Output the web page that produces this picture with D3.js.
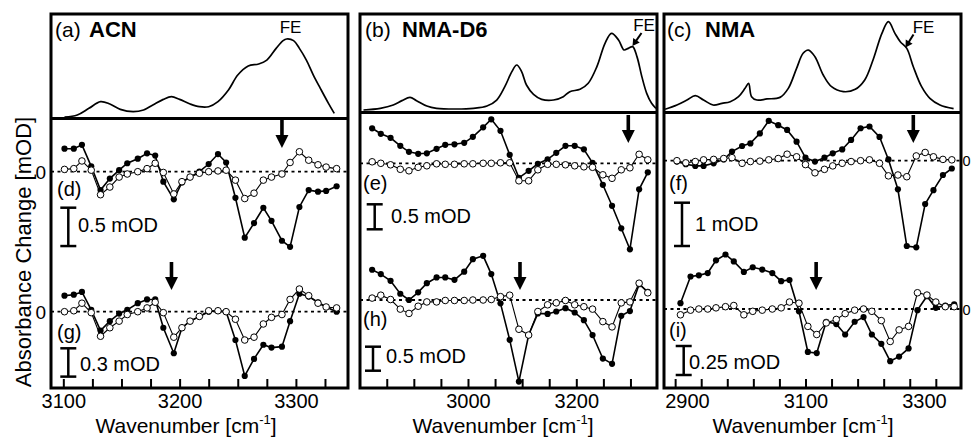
<!DOCTYPE html>
<html><head><meta charset="utf-8">
<script src="https://cdn.jsdelivr.net/npm/d3@7"></script>
<style>
body{margin:0;background:#fff}
svg{display:block}
text{font-family:"Liberation Sans",Arial,Helvetica,sans-serif;fill:#000}
</style>
</head><body>
<svg id="chart" width="971" height="441"></svg>
<script>
// ---------- DATA ----------
// Panel (a) ACN : FTIR spectrum (normalised absorbance)
const aFtirWave = [3101,3112,3122,3132,3140,3149,3160,3169,3177,3186,3193,3200,3209,3217,3225,3233,3242,3250,3259,3268,3275,3283,3289,3292,3298,3303,3309,3315,3321,3328,3333];
const aFtirAbs  = [0,0.026,0.111,0.197,0.167,0.098,0.068,0.09,0.154,0.226,0.26,0.226,0.167,0.132,0.132,0.197,0.346,0.538,0.654,0.68,0.73,0.88,0.979,1.0,0.979,0.88,0.73,0.538,0.368,0.175,0.047];
// Panel (a) difference spectra, wavenumbers [cm-1] and mOD
const aWave = [3101,3109,3116,3124,3132,3140,3148,3155,3164,3172,3179,3186,3195,3202,3209,3217,3225,3233,3240,3248,3256,3264,3272,3279,3288,3295,3303,3311,3319,3326,3335];
const dFilled = [0.30,0.30,0.35,0.07,-0.24,-0.09,0.02,0.11,0.17,0.24,0.21,-0.13,-0.36,-0.14,-0.07,0.0,0.10,0.23,0.12,-0.34,-0.86,-0.67,-0.47,-0.64,-0.90,-0.98,-0.46,-0.24,-0.26,-0.25,-0.19];
const dOpen   = [0.03,0.04,0.14,0.02,-0.30,-0.20,-0.07,-0.03,0.0,0.04,0.11,-0.01,-0.29,-0.13,-0.07,-0.02,0.0,0.01,0.02,-0.11,-0.35,-0.28,-0.11,-0.07,-0.03,0.12,0.26,0.15,0.09,0.06,0.04];
const gFilled = [0.17,0.18,0.21,0.02,-0.20,-0.10,-0.02,0.02,0.09,0.13,0.13,-0.17,-0.44,-0.17,-0.10,-0.05,0.0,0.01,0.0,-0.30,-0.68,-0.50,-0.35,-0.38,-0.37,-0.10,0.19,0.16,0.10,0.05,0.0];
const gOpen   = [0.0,0.01,0.09,-0.01,-0.26,-0.17,-0.10,-0.03,0.0,0.04,0.10,-0.01,-0.27,-0.17,-0.10,-0.05,0.01,0.01,0.0,-0.08,-0.30,-0.27,-0.13,-0.06,-0.03,0.13,0.24,0.17,0.09,0.05,0.04];

// Panel (b) NMA-D6
const bFtirWave = [2807,2838,2862,2878,2893,2905,2924,2942,2979,3010,3035,3053,3068,3081,3090,3099,3108,3121,3136,3158,3176,3188,3207,3222,3238,3253,3265,3278,3288,3296,3304,3312,3321,3330,3339,3347];
const bFtirAbs  = [0,0.022,0.065,0.122,0.165,0.122,0.052,0.022,0.013,0.022,0.052,0.13,0.304,0.5,0.587,0.5,0.326,0.204,0.139,0.13,0.174,0.239,0.27,0.348,0.565,0.87,1.0,0.913,0.783,0.804,0.826,0.696,0.435,0.217,0.087,0.022];
const bWave = [2823,2839,2857,2875,2891,2908,2924,2942,2958,2975,2993,3009,3028,3043,3060,3077,3094,3112,3129,3147,3163,3180,3197,3214,3230,3249,3266,3283,3299,3316,3332];
const eFilled = [0.70,0.59,0.51,0.35,0.23,0.19,0.20,0.29,0.37,0.38,0.41,0.53,0.72,0.88,0.65,0.17,-0.29,-0.15,-0.01,0.08,0.21,0.35,0.35,0.28,0.01,-0.43,-0.85,-1.30,-1.72,-0.52,-0.18];
const eOpen   = [0.03,0.0,-0.03,-0.12,-0.15,-0.08,-0.05,-0.01,-0.02,-0.02,-0.01,-0.01,0.0,0.0,0.01,0.01,-0.35,-0.35,-0.13,-0.02,-0.02,-0.03,-0.05,-0.07,-0.08,-0.23,-0.30,-0.13,-0.09,0.18,0.07];
const hFilled = [0.63,0.54,0.40,0.13,0.0,0.16,0.35,0.47,0.47,0.42,0.59,0.85,0.92,0.54,-0.07,-0.83,-1.70,-0.73,-0.28,-0.29,-0.24,-0.17,-0.26,-0.42,-0.73,-1.22,-1.33,-0.33,-0.23,0.33,0.17];
const hOpen   = [0.04,0.10,0.01,-0.19,-0.28,-0.13,-0.04,-0.04,-0.01,-0.01,-0.01,0.0,0.0,0.01,0.07,0.10,-0.61,-0.73,-0.24,-0.10,-0.06,-0.01,-0.10,-0.14,-0.19,-0.45,-0.56,-0.06,-0.04,0.35,0.15];

// Panel (c) NMA
const cFtirWave = [2863,2883,2900,2914,2928,2944,2959,2973,2987,2998,3004,3009,3018,3035,3057,3071,3085,3096,3105,3116,3130,3144,3164,3184,3200,3214,3229,3240,3251,3260,3271,3282,3296,3310,3327,3350];
const cFtirAbs  = [0.008,0.057,0.113,0.162,0.113,0.057,0.075,0.094,0.151,0.245,0.302,0.151,0.113,0.125,0.143,0.245,0.472,0.642,0.679,0.604,0.396,0.264,0.208,0.234,0.34,0.566,0.868,1.0,0.868,0.774,0.698,0.49,0.264,0.132,0.057,0.015];
const cWaveF = [2883,2898,2914,2928,2945,2962,2976,2993,3007,3023,3038,3054,3069,3085,3100,3116,3132,3146,3162,3177,3193,3208,3225,3240,3256,3271,3287,3302,3316,3332,3347];
const cWaveI = [2889,2906,2920,2935,2949,2965,2979,2996,3011,3027,3044,3059,3073,3089,3104,3119,3135,3152,3167,3183,3198,3212,3228,3243,3258,3274,3289,3305,3320,3336,3351];
const fFilled = [-0.02,-0.08,-0.12,-0.12,-0.06,0.03,0.21,0.34,0.40,0.63,0.92,0.82,0.71,0.44,0.07,-0.02,0.07,0.17,0.26,0.48,0.75,0.79,0.55,0.03,-0.66,-1.97,-2.0,-1.0,-0.68,-0.33,-0.18];
const fOpen   = [0.0,-0.05,-0.02,0.02,0.03,0.05,0.07,-0.06,-0.02,-0.01,0.02,0.05,0.15,0.09,-0.09,-0.28,-0.20,-0.12,-0.06,-0.02,0.0,0.02,-0.06,-0.35,-0.33,-0.37,0.11,0.19,0.09,0.03,0.02];
const iFilled = [0.05,0.28,0.29,0.31,0.42,0.47,0.41,0.32,0.36,0.34,0.31,0.24,0.25,-0.02,-0.37,-0.38,-0.11,-0.13,-0.22,-0.11,-0.07,-0.22,-0.30,-0.45,-0.41,-0.34,-0.01,0.11,0.01,0.03,0.04];
const iOpen   = [-0.05,-0.01,0.0,0.0,0.01,0.02,0.03,-0.05,-0.02,-0.01,0.0,0.01,0.06,0.05,-0.15,-0.22,-0.12,-0.09,-0.04,-0.01,0.0,-0.02,-0.10,-0.28,-0.18,-0.15,0.14,0.12,0.06,0.02,0.02];

// Axis ticks / labels
const aTicks = [3100,3125,3150,3175,3200,3225,3250,3275,3300,3325];
const aLabels = [3100,3200,3300];
const bTicks = [2850,2900,2950,3000,3050,3100,3150,3200,3250,3300];
const bLabels = [3000,3200];
const cTicks = [2880,2924,2968,3012,3056,3100,3144,3188,3232,3276,3320];
const cLabels = [2900,3100,3300];

// Annotations
const panelTags = ["(a)","(b)","(c)"];
const panelNames = ["ACN","NMA-D6","NMA"];
const rowTags = [["(d)","(g)"],["(e)","(h)"],["(f)","(i)"]];
const scaleBarValues = [[0.5,0.3],[0.5,0.5],[1,0.25]];
const scaleBarTexts = [["0.5 mOD","0.3 mOD"],["0.5 mOD","0.5 mOD"],["1 mOD","0.25 mOD"]];
const arrowWave = [[3288,3193],[3296,3096],[3282,3118]];
const feWave = [3292,3304,3271];

// ---------- LAYOUT ----------
const panels = [
  {left:51,right:348,top:14,div:118.5,bottom:388,domain:[3089.4,3344.8],ticks:aTicks,labels:aLabels,
   ftirW:aFtirWave,ftirA:aFtirAbs,ftirBase:117,ftirPeak:39,
   tagX:55,nameX:89,feText:[290.5,33],feArrow:null,
   rows:[{wave:aWave,filled:dFilled,open:dOpen,zero:171.7,ppm:76.7,labX:57,labY:196,barX:68.3,barTop:207.7,txtX:78,txtY:232,arrowTop:120},
         {wave:aWave,filled:gFilled,open:gOpen,zero:311.7,ppm:94.4,labX:57,labY:339,barX:68.3,barTop:348.3,txtX:80,txtY:371,arrowTop:262}],
   axTitleX:186},
  {left:360,right:657,top:14,div:112.5,bottom:388,domain:[2800.6,3349],ticks:bTicks,labels:bLabels,
   ftirW:bFtirWave,ftirA:bFtirAbs,ftirBase:110,ftirPeak:33.3,
   tagX:365,nameX:402,feText:[644,31],feArrow:[[641.5,33],[9,-13]],
   rows:[{wave:bWave,filled:eFilled,open:eOpen,zero:163.3,ppm:50,labX:363,labY:190,barX:374.7,barTop:204.3,txtX:391,txtY:223,arrowTop:115},
         {wave:bWave,filled:hFilled,open:hOpen,zero:300,ppm:48,labX:363,labY:326,barX:373,barTop:346.7,txtX:386,txtY:363,arrowTop:262}],
   axTitleX:503},
  {left:664,right:961,top:14,div:112.5,bottom:388,domain:[2861.2,3362.5],ticks:cTicks,labels:cLabels,
   ftirW:cFtirWave,ftirA:cFtirAbs,ftirBase:110,ftirPeak:21.7,
   tagX:667,nameX:705,feText:[923.5,33],feArrow:[[913.5,34.5],[8,-13]],
   rows:[{wave:cWaveF,filled:fFilled,open:fOpen,zero:160.7,ppm:43.3,labX:669,labY:190,barX:682,barTop:202.7,txtX:695,txtY:231,arrowTop:115},
         {wave:cWaveI,filled:iFilled,open:iOpen,zero:309,ppm:116,labX:669,labY:337,barX:683.7,barTop:346,txtX:689,txtY:369,arrowTop:262}],
   axTitleX:803}
];

const svg = d3.select('#chart');

function downArrow(g, xc, y0) {
  g.append('line').attr('x1',xc).attr('x2',xc).attr('y1',y0).attr('y2',y0+17)
    .attr('stroke','#000').attr('stroke-width',3.6);
  g.append('path').attr('d',`M${xc-6.5},${y0+15} L${xc+6.5},${y0+15} L${xc},${y0+28} Z`).attr('fill','#000');
}

panels.forEach((p, pi) => {
  const g = svg.append('g');
  const x = d3.scaleLinear().domain(p.domain).range([p.left, p.right]);

  // FTIR spectrum
  const yF = d3.scaleLinear().domain([0,1]).range([p.ftirBase, p.ftirPeak]);
  g.append('path').datum(d3.zip(p.ftirW, p.ftirA))
    .attr('d', d3.line().x(d=>x(d[0])).y(d=>yF(d[1])).curve(d3.curveCatmullRom.alpha(0.5)))
    .attr('fill','none').attr('stroke','#000').attr('stroke-width',1.7);

  // Panel title
  const t = g.append('text').attr('x',p.tagX).attr('y',37).attr('font-size',21);
  t.append('tspan').text(panelTags[pi]);
  g.append('text').attr('x',p.nameX).attr('y',37).attr('font-size',22).attr('font-weight','bold').text(panelNames[pi]);
  g.append('text').attr('x',p.feText[0]).attr('y',p.feText[1]).attr('font-size',17).attr('text-anchor','middle').text('FE');
  if (p.feArrow) {
    const [[x1,y1],[dx,dy]] = p.feArrow;
    const tipX = x1 - dx, tipY = y1 - dy;
    g.append('line').attr('x1',x1).attr('y1',y1).attr('x2',tipX+dx*0.3).attr('y2',tipY+dy*0.3)
      .attr('stroke','#000').attr('stroke-width',2);
    const ang = Math.atan2(-dy, -dx);
    const L = 7, W = 4;
    const bx = tipX - L*Math.cos(ang), by = tipY - L*Math.sin(ang);
    const px = -Math.sin(ang)*W, py = Math.cos(ang)*W;
    g.append('path').attr('d',`M${tipX},${tipY} L${bx+px},${by+py} L${bx-px},${by-py} Z`).attr('fill','#000');
  }

  // difference spectra rows
  p.rows.forEach((r, ri) => {
    const y = d3.scaleLinear().domain([0,1]).range([r.zero, r.zero - r.ppm]);
    g.append('line').attr('x1',p.left).attr('x2',p.right).attr('y1',y(0)).attr('y2',y(0))
      .attr('stroke','#000').attr('stroke-width',1.8).attr('stroke-dasharray','3,3.5');
    const line = d3.line().x(d=>x(d[0])).y(d=>y(d[1]));
    const fd = d3.zip(r.wave, r.filled), od = d3.zip(r.wave, r.open);
    g.append('path').datum(fd).attr('d',line).attr('fill','none').attr('stroke','#000').attr('stroke-width',1.6);
    g.append('path').datum(od).attr('d',line).attr('fill','none').attr('stroke','#000').attr('stroke-width',1.1);
    g.selectAll(null).data(fd).enter().append('circle')
      .attr('cx',d=>x(d[0])).attr('cy',d=>y(d[1])).attr('r',3.1).attr('fill','#000');
    g.selectAll(null).data(od).enter().append('circle')
      .attr('cx',d=>x(d[0])).attr('cy',d=>y(d[1])).attr('r',3.3).attr('fill','#fff').attr('stroke','#000').attr('stroke-width',1);

    // row tag
    g.append('text').attr('x',r.labX).attr('y',r.labY).attr('font-size',20).text(rowTags[pi][ri]);
    // scale bar
    const h = y(0) - y(scaleBarValues[pi][ri]);
    const bx = r.barX, bt = r.barTop;
    g.append('line').attr('x1',bx).attr('x2',bx).attr('y1',bt).attr('y2',bt+h).attr('stroke','#000').attr('stroke-width',2.5);
    g.append('line').attr('x1',bx-8).attr('x2',bx+8).attr('y1',bt).attr('y2',bt).attr('stroke','#000').attr('stroke-width',2.5);
    g.append('line').attr('x1',bx-8).attr('x2',bx+8).attr('y1',bt+h).attr('y2',bt+h).attr('stroke','#000').attr('stroke-width',2.5);
    g.append('text').attr('x',r.txtX).attr('y',r.txtY).attr('font-size',20).text(scaleBarTexts[pi][ri]);

    // marker arrow
    downArrow(g, x(arrowWave[pi][ri]), r.arrowTop);

    // zero labels
    if (pi === 0) g.append('text').attr('x',46).attr('y',y(0)+7).attr('text-anchor','end').attr('font-size',19).text('0');
    if (pi === 2) g.append('text').attr('x',962.5).attr('y',y(0)+5.5).attr('font-size',14.5).text('0');
  });

  // frame
  g.append('rect').attr('x',p.left).attr('y',p.top).attr('width',p.right-p.left).attr('height',p.bottom-p.top)
    .attr('fill','none').attr('stroke','#000').attr('stroke-width',3);
  g.append('line').attr('x1',p.left).attr('x2',p.right).attr('y1',p.div).attr('y2',p.div).attr('stroke','#000').attr('stroke-width',3);

  // axes
  const minor = g.append('g').attr('transform',`translate(0,${p.bottom})`)
    .call(d3.axisTop(x).tickValues(p.ticks).tickSize(9).tickFormat(''));
  minor.select('.domain').remove();
  minor.selectAll('line').attr('stroke','#000').attr('stroke-width',2);
  const lab = g.append('g').attr('transform',`translate(0,${p.bottom})`)
    .call(d3.axisBottom(x).tickValues(p.labels).tickSize(0).tickFormat(d3.format('d')));
  lab.select('.domain').remove();
  lab.attr('font-family',null).attr('font-size',null);
  lab.selectAll('text').attr('y',20).attr('dy',0).attr('font-size',20).attr('fill','#000');

  // x-axis title
  const xt = g.append('text').attr('x',p.axTitleX).attr('y',433).attr('text-anchor','middle').attr('font-size',21);
  xt.append('tspan').text('Wavenumber [cm');
  xt.append('tspan').attr('dy',-9).attr('font-size',13).text('-1');
  xt.append('tspan').attr('dy',9).text(']');
});

// y-axis title
svg.append('text').attr('transform','translate(31,252) rotate(-90)').attr('text-anchor','middle')
  .attr('font-size',22).text('Absorbance Change [mOD]');
</script>
</body></html>
